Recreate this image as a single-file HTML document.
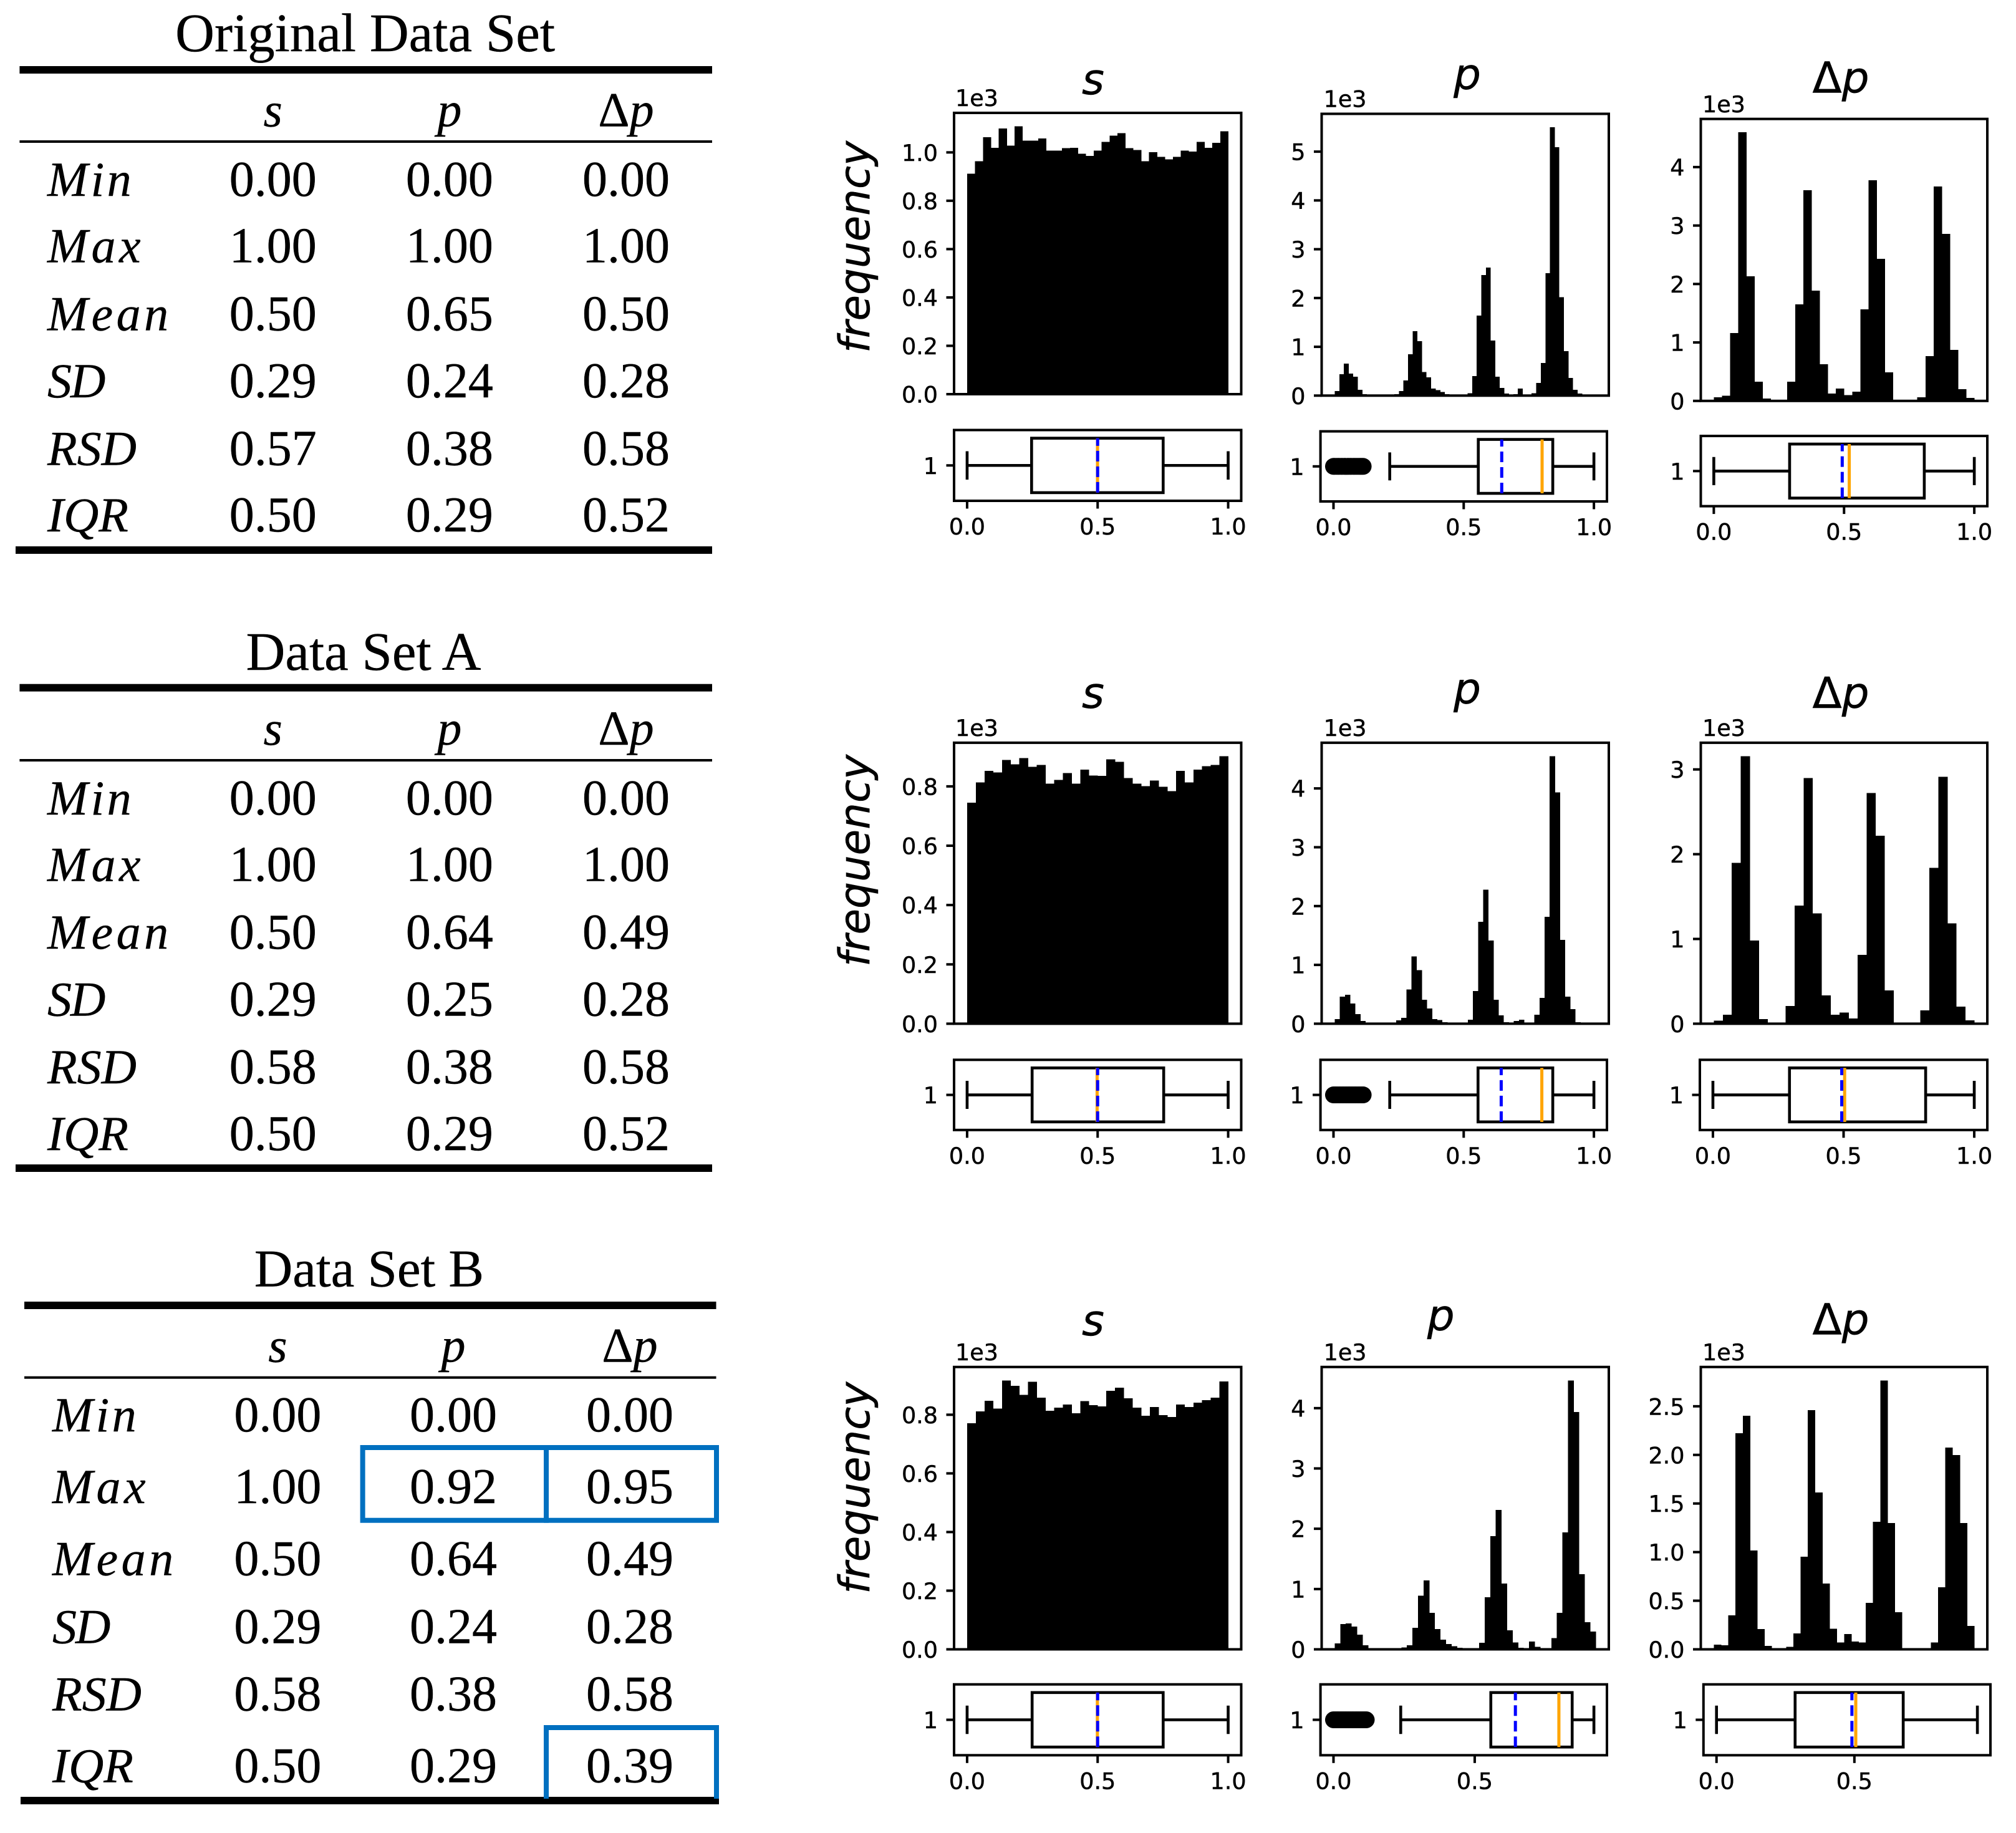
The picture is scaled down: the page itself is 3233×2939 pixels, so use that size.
<!DOCTYPE html>
<html lang="en">
<head>
<meta charset="utf-8">
<title>Data set statistics and distributions</title>
<style>
html,body{margin:0;padding:0;background:#fff;width:3233px;height:2939px;overflow:hidden}
svg{display:block}
.serif{font-family:"Liberation Serif",serif;fill:#000;stroke:#000;stroke-width:0.4}
.dv{font-family:"DejaVu Sans",sans-serif;fill:#000;stroke:#000;stroke-width:0.5}
</style>
</head>
<body>
<svg id="fig" xmlns="http://www.w3.org/2000/svg" width="3233" height="2939" viewBox="0 0 3233 2939">
<rect x="0" y="0" width="3233" height="2939" fill="#fff"/>
</svg>
<script>
// ---------- table data ----------
const rowNames = ["Min","Max","Mean","SD","RSD","IQR"];
const tableOriginal = [["0.00","0.00","0.00"],["1.00","1.00","1.00"],["0.50","0.65","0.50"],["0.29","0.24","0.28"],["0.57","0.38","0.58"],["0.50","0.29","0.52"]];
const tableA = [["0.00","0.00","0.00"],["1.00","1.00","1.00"],["0.50","0.64","0.49"],["0.29","0.25","0.28"],["0.58","0.38","0.58"],["0.50","0.29","0.52"]];
const tableB = [["0.00","0.00","0.00"],["1.00","0.92","0.95"],["0.50","0.64","0.49"],["0.29","0.24","0.28"],["0.58","0.38","0.58"],["0.50","0.29","0.39"]];

// ---------- histogram counts (thousands) ----------
const histOrigS = [0.912,0.963,1.063,1.019,1.099,1.028,1.108,1.048,1.048,1.057,1.007,1.007,1.018,1.019,0.994,0.986,1.007,1.043,1.069,1.079,1.018,1.01,0.963,1.001,0.981,0.971,0.981,1.007,1.004,1.043,1.019,1.039,1.087];
const histOrigP = [0.096,0.438,0.658,0.452,0.39,0.116,0.03,0.012,0.006,0.004,0.004,0.005,0.015,0.028,0.096,0.308,0.849,1.322,1.116,0.486,0.377,0.144,0.11,0.075,0.028,0.012,0.008,0.006,0.006,0.048,0.397,1.637,2.473,2.623,1.13,0.39,0.158,0.041,0.015,0.028,0.144,0.012,0.012,0.048,0.26,0.671,2.507,5.5,5.089,2.014,0.911,0.363,0.116,0.041,0.012,0.006,0.004];
const histOrigD = [0.063,0.086,1.16,4.594,2.131,0.331,0.04,0.017,0.017,0.331,1.651,3.606,1.886,0.629,0.126,0.211,0.097,0.16,1.566,3.777,2.429,0.491,0.011,0.011,0.011,0.063,0.766,3.669,2.857,0.874,0.2,0.051];
const histAS = [0.745,0.813,0.852,0.847,0.889,0.874,0.895,0.866,0.872,0.809,0.822,0.845,0.809,0.856,0.837,0.835,0.891,0.883,0.828,0.809,0.801,0.82,0.799,0.784,0.852,0.813,0.856,0.868,0.872,0.902];
const histAP = [0.079,0.459,0.493,0.346,0.164,0.045,0.017,0.01,0.008,0.008,0.01,0.012,0.057,0.102,0.584,1.146,0.913,0.408,0.261,0.079,0.062,0.028,0.017,0.01,0.01,0.01,0.068,0.556,1.73,2.28,1.412,0.408,0.142,0.028,0.017,0.045,0.068,0.017,0.017,0.153,0.437,1.815,4.549,3.931,1.424,0.459,0.25,0.028,0.01,0.006,0.004];
const histAD = [0.035,0.106,1.898,3.157,0.98,0.055,0.012,0.012,0.209,1.394,2.898,1.303,0.335,0.106,0.13,0.063,0.811,2.72,2.217,0.394,0.008,0.008,0.008,0.157,1.839,2.913,1.185,0.201,0.039];
const histBS = [0.771,0.811,0.848,0.821,0.917,0.899,0.868,0.912,0.858,0.814,0.824,0.835,0.805,0.846,0.833,0.828,0.882,0.892,0.856,0.824,0.797,0.826,0.799,0.792,0.835,0.826,0.841,0.85,0.858,0.914];
const histBP = [0.1,0.421,0.427,0.377,0.244,0.066,0.011,0.006,0.006,0.006,0.006,0.008,0.033,0.066,0.355,0.892,1.141,0.604,0.338,0.161,0.089,0.05,0.028,0.015,0.01,0.01,0.111,0.864,1.878,2.31,1.091,0.316,0.116,0.028,0.011,0.127,0.039,0.011,0.011,0.188,0.604,1.939,4.46,3.934,1.247,0.449,0.294];
const histBD = [0.048,0.041,0.351,2.223,2.402,1.017,0.21,0.034,0.007,0.007,0.027,0.165,0.952,2.46,1.612,0.677,0.213,0.069,0.158,0.079,0.069,0.478,1.313,2.766,1.299,0.381,0.003,0.003,0.003,0.003,0.072,0.639,2.076,1.997,1.299,0.241];

// ---------- y tick labels ----------
const ticksFine = ["0.0","0.2","0.4","0.6","0.8","1.0"];
const ticksFineShort = ["0.0","0.2","0.4","0.6","0.8"];
const ticksTo5 = ["0","1","2","3","4","5"];
const ticksTo4 = ["0","1","2","3","4"];
const ticksTo3 = ["0","1","2","3"];
const ticksHalf = ["0.0","0.5","1.0","1.5","2.0","2.5"];

// ---------- x tick labels ----------
const xTicksFull = ["0.0","0.5","1.0"];
const xTicksShort = ["0.0","0.5"];

// ---------- box plot statistics: whiskerLow, q1, median, q3, whiskerHigh, mean ----------
const boxOrigS = [0,0.247,0.4995,0.751,1,0.5];
const boxOrigP = [0.216,0.556,0.801,0.842,1,0.646];
const boxOrigD = [0,0.291,0.52,0.808,1,0.493];
const boxAS = [0,0.249,0.498,0.753,1,0.5];
const boxAP = [0.216,0.555,0.8,0.842,1,0.644];
const boxAD = [0,0.293,0.504,0.814,1,0.493];
const boxBS = [0,0.249,0.499,0.751,1,0.5];
const boxBP = [0.238,0.557,0.798,0.845,0.922,0.644];
const boxBD = [0,0.285,0.505,0.677,0.946,0.491];

// ---------- outliers ----------
const fliersOrigP = [0,0.004,0.011,0.017,0.022,0.029,0.034,0.041,0.046,0.053,0.058,0.064,0.069,0.076,0.081,0.087,0.093,0.099,0.104,0.109,0.114];
const fliersAP = [0,0.005,0.01,0.016,0.023,0.028,0.035,0.04,0.047,0.052,0.059,0.063,0.07,0.075,0.082,0.086,0.094,0.098,0.105,0.11,0.114];
const fliersBP = [0,0.006,0.012,0.017,0.024,0.03,0.036,0.042,0.047,0.054,0.06,0.066,0.071,0.078,0.083,0.089,0.095,0.101,0.106,0.111,0.116];

// ---------- layout (not data) ----------
const sX=[1530,1990.5], pX=[2119.5,2580], dX=[2727.5,3187];
const pBX=[2117.6,2577];
const panels = [
 {id:"original-s",hist:histOrigS,ticks:ticksFine,box:boxOrigS,fliers:[],xt:xTicksFull,hx:sX,bx:sX,hy:[181,632],by:[689.5,803],title:"s",tx:1753,ty:151,ox:1532,oy:169.8,freqY:396,hmax:1},
 {id:"original-p",hist:histOrigP,ticks:ticksTo5,box:boxOrigP,fliers:fliersOrigP,xt:xTicksFull,hx:pX,bx:pBX,hy:[182.5,634.3],by:[691.6,804],title:"p",tx:2353,ty:143,ox:2122.6,oy:171.4,hmax:1},
 {id:"original-dp",hist:histOrigD,ticks:ticksTo4,box:boxOrigD,fliers:[],xt:xTicksFull,hx:dX,bx:dX,hy:[190.7,642.8],by:[699,811.6],title:"dp",tx:2952,ty:148.4,ox:2730,oy:180,hmax:1},
 {id:"a-s",hist:histAS,ticks:ticksFineShort,box:boxAS,fliers:[],xt:xTicksFull,hx:sX,bx:sX,hy:[1190.9,1641.4],by:[1699.3,1811.8],title:"s",tx:1753,ty:1135.2,ox:1532,oy:1180.2,freqY:1380,hmax:1},
 {id:"a-p",hist:histAP,ticks:ticksTo4,box:boxAP,fliers:fliersAP,xt:xTicksFull,hx:pX,bx:pBX,hy:[1190.9,1641.4],by:[1699.3,1811.8],title:"p",tx:2353,ty:1128.2,ox:2122.6,oy:1180.2,hmax:1},
 {id:"a-dp",hist:histAD,ticks:ticksTo3,box:boxAD,fliers:[],xt:xTicksFull,hx:dX,bx:[2726,3187],hy:[1190.9,1641.4],by:[1699.3,1811.8],title:"dp",tx:2952,ty:1135.2,ox:2730,oy:1180.2,hmax:1},
 {id:"b-s",hist:histBS,ticks:ticksFineShort,box:boxBS,fliers:[],xt:xTicksFull,hx:sX,bx:sX,hy:[2191.8,2644.5],by:[2700.7,2814.3],title:"s",tx:1753,ty:2140.9,ox:1532,oy:2181,freqY:2385.7,hmax:1},
 {id:"b-p",hist:histBP,ticks:ticksTo4,box:boxBP,fliers:fliersBP,xt:xTicksShort,hx:pX,bx:pBX,hy:[2191.8,2644.5],by:[2700.7,2814.3],title:"p",tx:2310.8,ty:2132.9,ox:2122.6,oy:2181,hmax:0.92},
 {id:"b-dp",hist:histBD,ticks:ticksHalf,box:boxBD,fliers:[],xt:xTicksShort,hx:dX,bx:[2731.8,3192],hy:[2191.8,2644.5],by:[2700.7,2814.3],title:"dp",tx:2952,ty:2139.3,ox:2730,oy:2181,hmax:0.95}
];

const NS="http://www.w3.org/2000/svg";
const fig=document.getElementById("fig");
function make(tag,attrs,parent,txt){
  const e=document.createElementNS(NS,tag);
  for(const k in attrs)e.setAttribute(k,attrs[k]);
  if(txt!==undefined)e.textContent=txt;
  (parent||fig).appendChild(e);
  return e;
}
function linScale(d0,d1,r0,r1){return v=>r0+(v-d0)/(d1-d0)*(r1-r0);}

// ---------- tables ----------
const tableGeoms=[
 {id:"original",title:"Original Data Set",ts:87,data:tableOriginal,tx:585.6,tb:82,rule:[31.4,1142,112],thin:227,head:202.5,bot:[25,1142,882],cols:[437.7,720.9,1004],lab:76,base:[314,420.7,529.5,637,745.5,852]},
 {id:"a",title:"Data Set A",ts:87,data:tableA,tx:583,tb:1074,rule:[31.4,1142,1102.7],thin:1219,head:1194,bot:[25,1142,1873],cols:[437.7,720.9,1004],lab:76,base:[1305.8,1412.6,1521,1628.6,1737,1844]},
 {id:"b",title:"Data Set B",ts:85,data:tableB,tx:592,tb:2062.6,rule:[39,1148.5,2093],thin:2208.7,head:2183.7,bot:[33,1153,2887],cols:[445.4,727,1010],lab:84,base:[2295,2410,2525.5,2634.4,2742.7,2857.6]}
];
const labelSpacing={Min:4.5,Max:5.5,Mean:5.5,SD:-2,RSD:0,IQR:0};
const headerNames=["s","p","Δp"];
tableGeoms.forEach(t=>{
  const g=make("g",{},fig);
  
  
  const title=make("text",{class:"serif",x:t.tx,y:t.tb,"font-size":t.ts,"text-anchor":"middle"},g,t.title);
  
  
  const topRule=make("rect",{x:t.rule[0],y:t.rule[2]-6,width:t.rule[1]-t.rule[0],height:12,fill:"#000"},g);
  
  
  const midRule=make("rect",{x:t.rule[0],y:t.thin-2,width:t.rule[1]-t.rule[0],height:4,fill:"#000"},g);
  
  
  const botRule=make("rect",{x:t.bot[0],y:t.bot[2]-6,width:t.bot[1]-t.bot[0],height:12,fill:"#000"},g);
  
  
  headerNames.forEach((h,c)=>{
    const ht=make("text",{class:"serif",x:t.cols[c],y:t.head,"font-size":78,"text-anchor":"middle"},g);
    
    
    if(h.length>1)make("tspan",{},ht,"Δ");
    make("tspan",{"font-style":"italic"},ht,h.slice(-1));
  });
  rowNames.forEach((r,i)=>{
    const lab=make("text",{class:"serif",x:t.lab,y:t.base[i],"font-size":78,"font-style":"italic","letter-spacing":labelSpacing[r]},g,r);
    
    
    t.data[i].forEach((v,c)=>{
      const cell=make("text",{class:"serif",x:t.cols[c],y:t.base[i],"font-size":80,"text-anchor":"middle"},g,v);
      
      
    });
  });
});
const hlStyle={fill:"none",stroke:"#0070c0","stroke-width":8};
const hlMaxP=make("rect",Object.assign({x:581.6,y:2321,width:294.4,height:116.7},hlStyle));


const hlMaxD=make("rect",Object.assign({x:876,y:2321,width:273,height:116.7},hlStyle));


const hlIqrD=make("path",Object.assign({d:"M876 2884V2770H1149V2884"},hlStyle));



// ---------- charts ----------
const SW=4.0, BW=4.6, TL=12.5, FS=36.5;
panels.forEach(p=>{
  const g=make("g",{},fig);
  
  
  const [L,R]=p.hx, [T,B]=p.hy;

  // histogram scales
  const ymax=Math.max.apply(null,p.hist)*1.05;
  const yS=linScale(0,ymax,B,T);
  const margin=(R-L)/22;
  const xH=linScale(0,p.hmax,L+margin,R-margin);
  const binW=p.hmax/p.hist.length;
  p.hist.forEach((v,i)=>{
    const x0=xH(i*binW), x1=xH((i+1)*binW);
    const bar=make("rect",{x:x0,y:yS(v),width:x1-x0+0.4,height:B-yS(v),fill:"#000","shape-rendering":"crispEdges"},g);
    
    
  });
  const frame=make("rect",{x:L,y:T,width:R-L,height:B-T,fill:"none",stroke:"#000","stroke-width":SW},g);
  
  
  p.ticks.forEach(t=>{
    const y=yS(parseFloat(t));
    const tick=make("line",{x1:L-TL,x2:L,y1:y,y2:y,stroke:"#000","stroke-width":SW},g);
    
    
    const lab=make("text",{class:"dv",x:L-26,y:y+13.5,"font-size":FS,"text-anchor":"end"},g,t);
    
    
  });
  const off=make("text",{class:"dv",x:p.ox,y:p.oy,"font-size":FS},g,"1e3");
  
  
  const title=make("text",{class:"dv",x:p.tx,y:p.ty,"font-size":69,"text-anchor":"middle"},g);
  
  
  if(p.title==="dp"){
    make("tspan",{},title,"Δ");
    make("tspan",{"font-style":"italic"},title,"p");
  }else{
    make("tspan",{"font-style":"italic"},title,p.title);
  }
  if(p.freqY){
    const fq=make("text",{class:"dv",transform:"translate(1394,"+p.freqY+") rotate(-90)","font-size":67.5,"font-style":"italic","text-anchor":"middle"},g,"frequency");
    
    
  }

  // box plot scales
  const [bL,bR]=p.bx, [bT,bB]=p.by;
  const [lo,q1,med,q3,hi,mean]=p.box;
  const dmin=Math.min.apply(null,[lo].concat(p.fliers));
  const bm=(bR-bL)/22;
  const xB=linScale(dmin,hi,bL+bm,bR-bm);
  const yB=linScale(0.675,1.325,bB,bT);
  const bframe=make("rect",{x:bL,y:bT,width:bR-bL,height:bB-bT,fill:"none",stroke:"#000","stroke-width":SW},g);
  
  
  const lineAttr={stroke:"#000","stroke-width":BW};
  const wL=make("line",Object.assign({x1:xB(lo),x2:xB(q1),y1:yB(1),y2:yB(1)},lineAttr),g);
  
  
  const wH=make("line",Object.assign({x1:xB(q3),x2:xB(hi),y1:yB(1),y2:yB(1)},lineAttr),g);
  
  
  const cL=make("line",Object.assign({x1:xB(lo),x2:xB(lo),y1:yB(0.87),y2:yB(1.13)},lineAttr),g);
  
  
  const cH=make("line",Object.assign({x1:xB(hi),x2:xB(hi),y1:yB(0.87),y2:yB(1.13)},lineAttr),g);
  
  
  const box=make("rect",Object.assign({x:xB(q1),y:yB(1.25),width:xB(q3)-xB(q1),height:yB(0.75)-yB(1.25),fill:"none"},lineAttr),g);
  
  
  const medLine=make("line",{x1:xB(med),x2:xB(med),y1:yB(0.75),y2:yB(1.25),stroke:"#ffa500","stroke-width":5},g);
  
  
  const meanLine=make("line",{x1:xB(mean),x2:xB(mean),y1:yB(0.75),y2:yB(1.25),stroke:"#0000ff","stroke-width":5,"stroke-dasharray":"17 8"},g);
  
  
  p.fliers.forEach(v=>{
    const c=make("circle",{cx:xB(v),cy:yB(1),r:13.5,fill:"#000"},g);
    
    
  });
  const t1=make("line",{x1:bL-TL,x2:bL,y1:yB(1),y2:yB(1),stroke:"#000","stroke-width":SW},g);
  
  
  const t1l=make("text",{class:"dv",x:bL-26,y:yB(1)+13.5,"font-size":FS,"text-anchor":"end"},g,"1");
  
  
  p.xt.forEach(t=>{
    const x=xB(parseFloat(t));
    const tick=make("line",{x1:x,x2:x,y1:bB,y2:bB+TL,stroke:"#000","stroke-width":SW},g);
    
    
    const lab=make("text",{class:"dv",x:x,y:bB+54,"font-size":FS,"text-anchor":"middle"},g,t);
    
    
  });
});
</script>
</body>
</html>
